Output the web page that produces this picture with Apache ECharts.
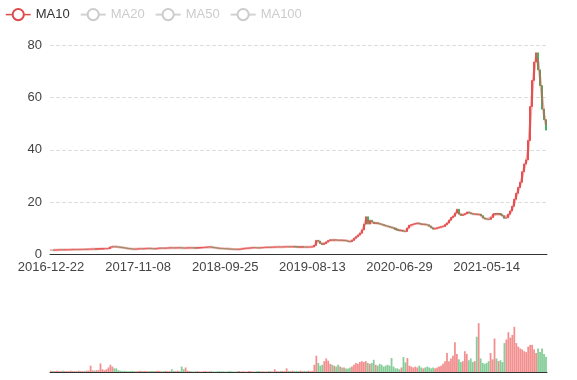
<!DOCTYPE html>
<html><head><meta charset="utf-8">
<script src="https://cdn.jsdelivr.net/npm/echarts@6/dist/echarts.min.js"></script>
<style>html,body{margin:0;padding:0;background:#fff}#c{width:577px;height:380px}</style>
</head><body><div id="c"></div>
<script>
// x-axis tick labels (one every pointsPerTick samples; samples are ~weekly)
const tickLabels = ['2016-12-22','2017-11-08','2018-09-25','2019-08-13','2020-06-29','2021-05-14'];
const pointsPerTick = 44;

// weekly closing prices
const closes = [
  1.7,1.68,1.72,1.75,1.78,1.8,1.76,1.8,1.84,1.86,
  1.86,1.88,1.9,1.88,1.93,1.95,1.97,1.95,2.0,2.03,
  2.05,2.1,2.07,2.13,2.15,2.17,2.2,2.25,2.27,2.3,
  2.85,3.0,2.95,2.9,2.85,
  2.75,2.6,2.5,2.4,2.25,2.15,2.1,2.05,2.1,
  2.15,2.2,2.17,2.25,2.3,2.35,2.27,2.23,2.15,2.27,2.4,2.45,2.43,2.4,2.45,2.5,
  2.55,2.53,2.5,2.55,2.6,2.55,2.5,2.45,2.5,2.55,
  2.57,2.55,2.53,2.5,2.55,2.6,2.65,2.7,2.75,2.85,
  2.9,2.8,2.65,2.55,2.45,2.35,2.3,2.25,2.2,
  2.15,2.1,2.05,2.0,1.97,1.95,2.0,2.1,2.25,
  2.35,2.4,2.45,2.55,2.65,2.6,2.55,2.5,2.6,2.65,2.7,2.75,2.7,
  2.75,2.8,2.85,2.85,2.9,2.85,2.9,2.95,2.95,2.9,2.95,3.0,2.95,2.9,2.85,2.85,2.9,2.85,2.8,2.85,2.85,2.9,
  3.5,5.4,5.1,4.2,3.8,4.2,4.8,5.3,5.6,5.4,
  5.6,5.5,5.4,5.5,5.3,5.4,5.2,5.0,4.9,5.4,
  6.2,6.8,7.4,8.1,9.4,11.6,14.4,
  11.6,13.1,12.4,11.8,12.1,11.8,11.6,11.4,11.1,10.9,10.7,
  10.4,10.2,10.0,9.6,9.3,9.1,
  9.2,8.9,8.8,10.1,
  11.2,11.4,11.6,11.8,12.0,11.8,11.5,11.6,11.4,11.3,
  10.8,10.2,9.7,9.9,10.2,10.4,10.6,10.7,11.4,12.0,
  13.1,14.1,14.6,15.8,17.3,
  15.4,14.9,15.2,15.6,16.2,
  15.9,15.6,15.4,15.5,15.3,15.4,14.8,13.9,13.6,13.5,
  13.4,14.1,15.4,15.6,15.4,15.6,15.2,14.8,13.8,14.0,
  15.4,16.6,18.4,21.1,23.4,25.6,27.6,31.6,34.6,36.1,
  43.5,56.5,66.5,73.5,77.0,70.5,64.5,55.5,51.5,47.5
];

// weekly volumes (relative units)
const volumes = [
  1.5,1,1,1.5,1,1,1.5,1,1,1, 1.5,1,1,1,1.5,1,1,1,1.5,1.5,
  7,2,1.5,2,2,9.5,3,2,3,5, 8,6,4,4,2,1.5,1,1.2,1,0.8,
  1,1.2,1,0.8,1,1.5,1,1.2,1,0.8, 1,1.2,1,1,1.5,1,0.8,1,1.2,1,
  1,3,1.2,1,1.5,1,6,3,5,1.5, 1,0.8,0.6,0.8,1,0.6,0.5,0.8,1,0.6,
  0.8,1,0.6,0.5,0.8,1,0.6,0.8,0.5,0.6, 1,0.8,0.6,0.5,0.8,1,0.6,0.8,0.5,0.6,
  1,0.8,0.6,0.5,0.8,1,0.6,0.8,0.5,0.6, 1,0.8,0.6,3,1,0.8,1.2,1,1,4,
  1.2,1,1.5,1,1.2,1,1.5,1,1.2,1, 1.5,1,1.2,8,18,10,7,8,12,15,
  12.5,9,8,7,6,8,6,5,5,4, 4,5,6,8,10,9,11,12,11,12,
  10,9,10,13.5,8,7,9,8,6,7, 8,7,15.4,6,4,4,3,5,16.5,10.6,
  15.4,7,6,5,6,5,7,5,4,5, 6,5,4,5,4,5,6,7,9,12,
  21,12,15,18,33,20,14,11,12,23, 20,13,15,11,12,39,54,15,10,9,
  10,12,21,14,37,15,12,13,11,32, 36,44,38,41,50,32,28,26,25,23,
  22,28,30,30,25,21,26,22,26,20,17
];

const maNames = ['MA10', 'MA20', 'MA50', 'MA100'];
const maWindows = [2, 4, 10, 20]; // in weekly samples (~10/20/50/100 trading days)
const maColors = ['#dd4b4b', '#5470c6', '#91cc75', '#fac858'];

const upColor = '#eb5454';
const downColor = '#47b262';

function fmt(t) { return new Date(t).toISOString().slice(0, 10); }
const categories = [];
for (let i = 0; i < closes.length; i++) {
  const seg = Math.floor(i / pointsPerTick), k = i % pointsPerTick;
  let a, b;
  if (seg < tickLabels.length - 1) {
    a = Date.parse(tickLabels[seg]); b = Date.parse(tickLabels[seg + 1]);
  } else {
    const n = tickLabels.length;
    a = Date.parse(tickLabels[n - 1]);
    b = a + (a - Date.parse(tickLabels[n - 2]));
  }
  categories.push(fmt(a + (b - a) * k / pointsPerTick));
}

const opens = closes.map((c, i) => i === 0 ? c : closes[i - 1]);
const kData = closes.map((c, i) => [opens[i], c, Math.min(opens[i], c), Math.max(opens[i], c)]);
const volData = volumes.map((v, i) => ({
  value: v,
  itemStyle: { color: closes[i] >= opens[i] ? upColor : downColor }
}));

function ma(win) {
  return closes.map((c, i) => {
    if (i < win - 1) return '-';
    let s = 0;
    for (let j = 0; j < win; j++) s += closes[i - j];
    return +(s / win).toFixed(3);
  });
}

const font = 'Liberation Sans';
const selected = {};
maNames.forEach((n, i) => selected[n] = i === 0);

const chart = echarts.init(document.getElementById('c'), null, { renderer: 'canvas' });
chart.setOption({
  animation: false,
  textStyle: { fontFamily: font },
  legend: {
    data: maNames, selected: selected, left: 0, top: 3,
    itemGap: 10, inactiveColor: '#ccc',
    lineStyle: { width: 1.5, opacity: 1 },
    itemStyle: { borderWidth: 1.5, opacity: 1 },
    textStyle: { color: '#333', fontSize: 13, fontFamily: font }
  },
  grid: [
    { left: 50, right: 30, top: 45, height: 209.5 },
    { left: 50, right: 30, top: 306, height: 66 }
  ],
  xAxis: [
    {
      type: 'category', data: categories, boundaryGap: true,
      axisLine: { lineStyle: { color: '#333' } },
      axisTick: { alignWithLabel: true, interval: pointsPerTick - 1 },
      axisLabel: { interval: pointsPerTick - 1, color: '#444', fontSize: 13, margin: 6, fontFamily: font },
      splitLine: { show: false }
    },
    {
      type: 'category', gridIndex: 1, data: categories, boundaryGap: true,
      axisLine: { lineStyle: { color: '#333' } },
      axisTick: { show: false }, axisLabel: { show: false }, splitLine: { show: false }
    }
  ],
  yAxis: [
    {
      type: 'value', min: 0, max: 80, interval: 20,
      axisLine: { show: false }, axisTick: { show: false },
      axisLabel: { color: '#444', fontSize: 13, fontFamily: font },
      splitLine: { lineStyle: { type: 'dashed', color: '#ddd' } }
    },
    {
      type: 'value', gridIndex: 1, min: 0, max: 73,
      axisLine: { show: false }, axisTick: { show: false },
      axisLabel: { show: false }, splitLine: { show: false }
    }
  ],
  series: [
    {
      name: 'K', type: 'candlestick', data: kData, barWidth: '80%',
      itemStyle: { color: upColor, color0: downColor, borderColor: upColor, borderColor0: downColor }
    },
    ...maNames.map((n, i) => ({
      name: n, type: 'line', data: ma(maWindows[i]), showSymbol: false, smooth: false,
      color: maColors[i],
      lineStyle: { width: 2.5, opacity: 0.45 }
    })),
    {
      name: 'Volume', type: 'bar', xAxisIndex: 1, yAxisIndex: 1, data: volData,
      barWidth: '90%', itemStyle: { opacity: 0.65 }
    }
  ]
});
</script>
</body></html>
